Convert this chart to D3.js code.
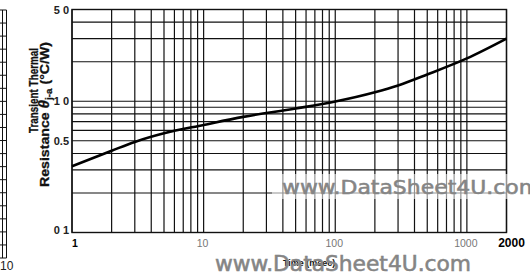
<!DOCTYPE html>
<html>
<head>
<meta charset="utf-8">
<script src="https://cdn.jsdelivr.net/npm/d3@7"></script>
<style>
  body { margin: 0; background: #fff; }
  svg { display: block; font-family: "Liberation Sans", Arial, sans-serif; }
</style>
</head>
<body>
<svg id="chart" width="530" height="273"></svg>
<script>
// time (msec) vs transient thermal resistance
const timeMs = [1, 2, 3, 5, 10, 20, 50, 100, 200, 300, 500, 1000, 2000];
const thetaJA = [0.32, 0.42, 0.49, 0.57, 0.66, 0.76, 0.88, 0.995, 1.17, 1.32, 1.6, 2.12, 3.0];

const xTickVals = [1, 10, 100, 1000, 2000];
const xTickText = ["1", "10", "100", "1000", "2000"];
const yTickVals = [5, 1, 0.5, 0.1];
const yTickText = ["5 0", "1 0", "0.5", "0 1"];

(function () {
  const svg = d3.select("#chart");

  const x = d3.scaleLog().domain([1, 2000]).range([72, 506.5]);
  const y = d3.scaleLog().domain([0.1, 5]).range([232.5, 9.5]);

  // scrap of the neighbouring chart at the left edge
  const strip = d3.scaleLinear().domain([0, 19]).range([10, 258]);
  const left = svg.append("g").attr("stroke", "#111").attr("stroke-width", 1);
  left.selectAll("line.h")
    .data(d3.range(20))
    .join("line")
    .attr("x1", 0).attr("x2", 6.5)
    .attr("y1", (d) => strip(d)).attr("y2", (d) => strip(d));
  left.selectAll("line.v")
    .data([2.5, 6.5])
    .join("line")
    .attr("x1", (d) => d).attr("x2", (d) => d)
    .attr("y1", strip(0)).attr("y2", strip(19));
  svg.append("text")
    .attr("x", 0).attr("y", 270)
    .attr("font-size", 12).attr("fill", "#222")
    .text("10");

  // grid
  const grid = svg.append("g").attr("stroke", "#111").attr("stroke-width", 1.2);
  grid.selectAll("line.gx")
    .data(x.ticks())
    .join("line")
    .attr("x1", (d) => x(d)).attr("x2", (d) => x(d))
    .attr("y1", y(5)).attr("y2", y(0.1));
  grid.selectAll("line.gy")
    .data(y.ticks())
    .join("line")
    .attr("x1", x(1)).attr("x2", x(2000))
    .attr("y1", (d) => y(d)).attr("y2", (d) => y(d));
  svg.append("rect")
    .attr("x", x(1)).attr("y", y(5))
    .attr("width", x(2000) - x(1)).attr("height", y(0.1) - y(5))
    .attr("fill", "none").attr("stroke", "#111").attr("stroke-width", 1.4);

  // curve
  const line = d3.line()
    .x((d, i) => x(timeMs[i]))
    .y((d) => y(d))
    .curve(d3.curveMonotoneX);
  svg.append("path")
    .datum(thetaJA)
    .attr("d", line)
    .attr("fill", "none")
    .attr("stroke", "#000")
    .attr("stroke-width", 2.6);

  // x tick labels
  svg.append("g")
    .selectAll("text")
    .data(xTickVals)
    .join("text")
    .attr("x", (d) => x(d) + (d === 1 ? 3 : d === 2000 ? 5 : -1))
    .attr("y", 247)
    .attr("text-anchor", "middle")
    .attr("font-size", (d) => (d === 2000 ? 12 : 10.5))
    .attr("font-weight", (d) => (d === 1 || d === 2000 ? "bold" : "normal"))
    .attr("fill", (d) => (d === 1 || d === 2000 ? "#000" : "#777"))
    .text((d, i) => xTickText[i]);

  // y tick labels
  svg.append("g")
    .selectAll("text")
    .data(yTickVals)
    .join("text")
    .attr("x", 69)
    .attr("y", (d) => y(d) + (d === 0.1 ? 1 : 4))
    .attr("text-anchor", "end")
    .attr("font-size", 11)
    .attr("font-weight", "bold")
    .attr("fill", "#222")
    .text((d, i) => yTickText[i]);

  // y axis title (condensed bold, like the scan)
  const title = svg.append("g")
    .attr("font-family", "'Liberation Sans Narrow', 'Liberation Sans', Arial, sans-serif")
    .attr("font-weight", "bold")
    .attr("font-size", 13)
    .attr("fill", "#111")
    .attr("stroke", "#111")
    .attr("stroke-width", 0.3);
  title.append("text")
    .attr("transform", "translate(37.5,133) rotate(-90)")
    .attr("textLength", 85)
    .attr("lengthAdjust", "spacingAndGlyphs")
    .text("Transient Thermal");
  const t2 = title.append("text")
    .attr("transform", "translate(49,187) rotate(-90)")
    .attr("textLength", 145)
    .attr("lengthAdjust", "spacingAndGlyphs");
  t2.append("tspan").text("Resistance ");
  t2.append("tspan").attr("font-style", "italic").attr("font-size", 14).text("θ");
  t2.append("tspan").attr("font-size", 9).attr("dy", 3).text("j-a");
  t2.append("tspan").attr("dy", -3).text(" (°C/W)");

  // x axis title, partly under the watermark
  svg.append("text")
    .attr("x", 283).attr("y", 266)
    .attr("font-size", 9).attr("font-weight", "bold")
    .attr("fill", "#111")
    .text("Time (msec)");

  // watermarks
  svg.append("rect")
    .attr("x", 272).attr("y", 174)
    .attr("width", 258).attr("height", 25)
    .attr("fill", "#fff").attr("opacity", 0.55);
  const wm = svg.append("g")
    .attr("font-family", "'DejaVu Sans', Verdana, sans-serif")
    .attr("font-stretch", "condensed")
    .attr("fill", "#858585")
    .attr("stroke", "#858585")
    .attr("stroke-width", 0.5);
  wm.append("text")
    .attr("x", 282).attr("y", 194)
    .attr("font-size", 20)
    .attr("textLength", 258)
    .attr("lengthAdjust", "spacingAndGlyphs")
    .text("www.DataSheet4U.com");
  wm.append("text")
    .attr("x", 215).attr("y", 271)
    .attr("font-size", 21)
    .attr("textLength", 256)
    .attr("lengthAdjust", "spacingAndGlyphs")
    .text("www.DataSheet4U.com");
})();
</script>
</body>
</html>
